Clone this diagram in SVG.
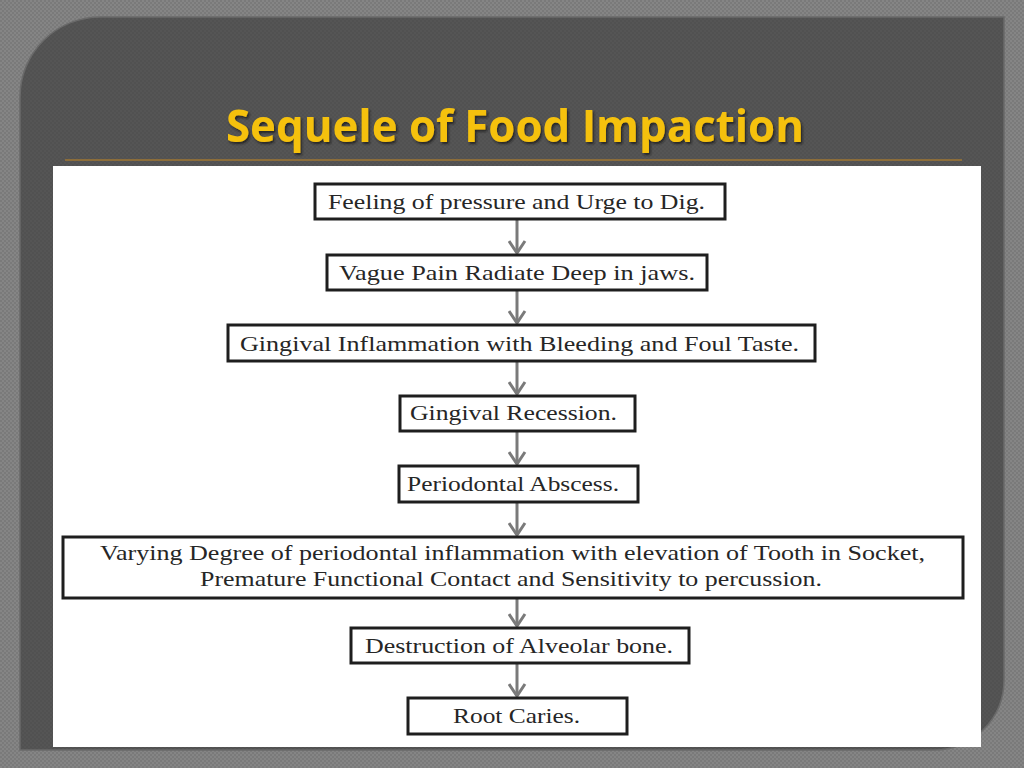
<svg xmlns="http://www.w3.org/2000/svg" width="1024" height="768" viewBox="0 0 1024 768">
<defs>
<pattern id="bgp" width="4" height="4" patternUnits="userSpaceOnUse">
<rect width="4" height="4" fill="#858585"/>
<rect width="2" height="2" fill="#7a7a7a"/>
<rect x="2" y="2" width="2" height="2" fill="#7a7a7a"/>
</pattern>
<pattern id="pp" width="4" height="4" patternUnits="userSpaceOnUse">
<rect width="4" height="4" fill="#555555"/>
<rect width="2" height="2" fill="#515151"/>
<rect x="2" y="2" width="2" height="2" fill="#515151"/>
</pattern>
<marker id="ah" markerWidth="20" markerHeight="16" refX="9" refY="13" orient="0" markerUnits="userSpaceOnUse">
<path d="M1,1 L9,13 L17,1" fill="none" stroke="#7a7a7a" stroke-width="3"/>
</marker>
<filter id="sh" x="-5%" y="-20%" width="110%" height="140%">
<feDropShadow dx="1.5" dy="2" stdDeviation="1" flood-color="#1a1a1a" flood-opacity="0.8"/>
</filter>
</defs>
<style>
.box{fill:#ffffff;stroke:#1e1e1e;stroke-width:3}
.t{font-family:"Liberation Serif","Times New Roman",serif;font-size:21px;fill:#262626;text-anchor:start}
.c{stroke:#7a7a7a;stroke-width:3;fill:none}
.title{font-family:"Open Sans","Liberation Sans",sans-serif;font-weight:700;font-size:44px;fill:#f5c10e}
</style>
<rect width="1024" height="768" fill="url(#bgp)"/>
<path d="M100,17 H1004 V680 A70,70 0 0 1 934,750 H20 V97 A80,80 0 0 1 100,17 Z" fill="url(#pp)" stroke="#6a6a6a" stroke-width="1.5"/>
<text class="title" x="226" y="142" textLength="578" lengthAdjust="spacingAndGlyphs" filter="url(#sh)">Sequele of Food Impaction</text>
<line x1="65" y1="160" x2="962" y2="160" stroke="#8c6d3a" stroke-width="2"/>
<rect x="53" y="166" width="928" height="581" fill="#ffffff"/>
<g id="connectors">
<line class="c" x1="517" y1="219" x2="517" y2="253" marker-end="url(#ah)"/>
<line class="c" x1="517" y1="290" x2="517" y2="323" marker-end="url(#ah)"/>
<line class="c" x1="517" y1="361" x2="517" y2="394" marker-end="url(#ah)"/>
<line class="c" x1="517" y1="431" x2="517" y2="464" marker-end="url(#ah)"/>
<line class="c" x1="517" y1="502" x2="517" y2="535" marker-end="url(#ah)"/>
<line class="c" x1="517" y1="598" x2="517" y2="626" marker-end="url(#ah)"/>
<line class="c" x1="517" y1="663" x2="517" y2="696" marker-end="url(#ah)"/>
</g>
<g id="n1"><rect class="box" x="315" y="184" width="410" height="35"/><text class="t" x="328" y="209" textLength="377" lengthAdjust="spacingAndGlyphs">Feeling of pressure and Urge to Dig.</text></g>
<g id="n2"><rect class="box" x="327" y="255" width="380" height="35"/><text class="t" x="339" y="280" textLength="356" lengthAdjust="spacingAndGlyphs">Vague Pain Radiate Deep in jaws.</text></g>
<g id="n3"><rect class="box" x="228" y="325" width="587" height="36"/><text class="t" x="240" y="351" textLength="559" lengthAdjust="spacingAndGlyphs">Gingival Inflammation with Bleeding and Foul Taste.</text></g>
<g id="n4"><rect class="box" x="400" y="396" width="235" height="35"/><text class="t" x="410" y="420" textLength="207" lengthAdjust="spacingAndGlyphs">Gingival Recession.</text></g>
<g id="n5"><rect class="box" x="399" y="466" width="239" height="36"/><text class="t" x="407" y="491" textLength="212" lengthAdjust="spacingAndGlyphs">Periodontal Abscess.</text></g>
<g id="n6"><rect class="box" x="63" y="537" width="900" height="61"/><text class="t" x="100" y="560" textLength="825" lengthAdjust="spacingAndGlyphs">Varying Degree of periodontal inflammation with elevation of Tooth in Socket,</text><text class="t" x="200" y="586" textLength="622" lengthAdjust="spacingAndGlyphs">Premature Functional Contact and Sensitivity to percussion.</text></g>
<g id="n7"><rect class="box" x="351" y="628" width="338" height="35"/><text class="t" x="365" y="653" textLength="308" lengthAdjust="spacingAndGlyphs">Destruction of Alveolar bone.</text></g>
<g id="n8"><rect class="box" x="408" y="698" width="219" height="36"/><text class="t" x="453" y="723" textLength="127" lengthAdjust="spacingAndGlyphs">Root Caries.</text></g>
</svg>
